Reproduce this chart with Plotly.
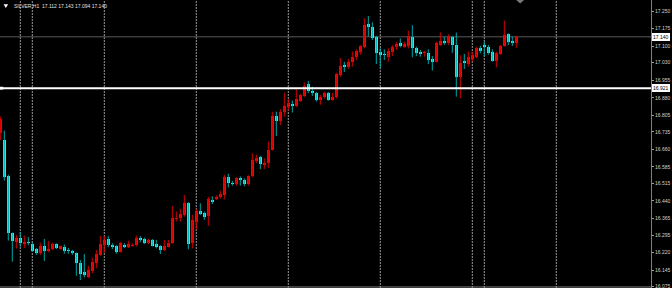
import plotly.graph_objects as go

# ---- data (SILVER, H1) ----
opens = [16.730, 16.700, 16.547, 16.305, 16.267, 16.281, 16.258, 16.267, 16.257, 16.234,
         16.220, 16.246, 16.226, 16.234, 16.256, 16.237, 16.243, 16.230, 16.225, 16.217,
         16.177, 16.137, 16.117, 16.142, 16.175, 16.210, 16.251, 16.277, 16.254, 16.248,
         16.224, 16.254, 16.245, 16.250, 16.251, 16.284, 16.279, 16.260, 16.274, 16.256,
         16.248, 16.231, 16.245, 16.260, 16.365, 16.369, 16.380, 16.433, 16.260, 16.352,
         16.398, 16.390, 16.376, 16.444, 16.447, 16.456, 16.466, 16.541, 16.518, 16.513,
         16.537, 16.530, 16.513, 16.547, 16.611, 16.627, 16.592, 16.601, 16.658, 16.802,
         16.781, 16.818, 16.842, 16.854, 16.845, 16.868, 16.888, 16.938, 16.910, 16.902,
         16.871, 16.885, 16.902, 16.871, 16.885, 16.977, 17.020, 17.010, 17.031, 17.053,
         17.077, 17.098, 17.193, 17.183, 17.141, 17.077, 17.067, 17.055, 17.077, 17.095,
         17.112, 17.098, 17.101, 17.141, 17.091, 17.077, 17.070, 17.072, 17.044, 17.034,
         17.105, 17.123, 17.112, 17.141, 17.105, 16.967, 17.037, 17.024, 17.044, 17.055,
         17.091, 17.105, 17.098, 17.077, 17.038, 17.067, 17.101, 17.152, 17.123, 17.112]
highs = [16.800, 16.740, 16.552, 16.305, 16.295, 16.307, 16.292, 16.286, 16.262, 16.240,
         16.262, 16.278, 16.270, 16.262, 16.260, 16.250, 16.254, 16.240, 16.232, 16.221,
         16.189, 16.214, 16.163, 16.198, 16.231, 16.291, 16.290, 16.290, 16.260, 16.252,
         16.266, 16.260, 16.271, 16.260, 16.292, 16.290, 16.284, 16.280, 16.278, 16.274,
         16.252, 16.274, 16.274, 16.419, 16.395, 16.407, 16.466, 16.435, 16.380, 16.407,
         16.430, 16.395, 16.458, 16.460, 16.464, 16.484, 16.551, 16.556, 16.526, 16.541,
         16.545, 16.537, 16.550, 16.643, 16.636, 16.633, 16.622, 16.693, 16.821, 16.821,
         16.831, 16.902, 16.875, 16.869, 16.916, 16.897, 16.945, 16.952, 16.927, 16.905,
         16.892, 16.906, 16.905, 16.900, 16.987, 17.050, 17.033, 17.045, 17.077, 17.087,
         17.105, 17.219, 17.229, 17.202, 17.144, 17.091, 17.087, 17.091, 17.105, 17.119,
         17.133, 17.119, 17.166, 17.190, 17.098, 17.084, 17.080, 17.087, 17.058, 17.119,
         17.159, 17.141, 17.151, 17.144, 17.158, 17.062, 17.067, 17.077, 17.077, 17.098,
         17.101, 17.119, 17.105, 17.087, 17.077, 17.105, 17.209, 17.155, 17.141, 17.143]
lows = [16.700, 16.527, 16.271, 16.181, 16.237, 16.245, 16.239, 16.252, 16.224, 16.210,
        16.210, 16.184, 16.222, 16.230, 16.235, 16.232, 16.215, 16.215, 16.210, 16.121,
        16.103, 16.114, 16.111, 16.132, 16.153, 16.206, 16.219, 16.243, 16.235, 16.215,
        16.220, 16.239, 16.239, 16.246, 16.246, 16.264, 16.256, 16.255, 16.246, 16.238,
        16.214, 16.227, 16.242, 16.257, 16.353, 16.352, 16.373, 16.234, 16.238, 16.317,
        16.380, 16.360, 16.334, 16.427, 16.444, 16.450, 16.447, 16.498, 16.505, 16.506,
        16.506, 16.503, 16.506, 16.541, 16.602, 16.576, 16.576, 16.582, 16.655, 16.717,
        16.764, 16.800, 16.826, 16.817, 16.840, 16.862, 16.883, 16.900, 16.888, 16.864,
        16.850, 16.876, 16.868, 16.868, 16.877, 16.969, 16.990, 17.003, 17.013, 17.041,
        17.063, 17.091, 17.141, 17.126, 17.024, 17.006, 17.041, 17.034, 17.058, 17.084,
        17.095, 17.094, 17.091, 17.053, 17.058, 17.055, 17.055, 17.024, 16.996, 17.031,
        17.101, 17.105, 17.105, 17.072, 16.885, 16.878, 17.003, 17.013, 17.034, 17.048,
        17.070, 17.058, 17.063, 17.034, 17.010, 17.063, 17.098, 17.105, 17.101, 17.094]
closes = [16.790, 16.544, 16.305, 16.271, 16.282, 16.260, 16.267, 16.260, 16.228, 16.217,
          16.246, 16.228, 16.237, 16.256, 16.240, 16.246, 16.227, 16.225, 16.217, 16.174,
          16.129, 16.123, 16.146, 16.181, 16.214, 16.257, 16.274, 16.251, 16.245, 16.222,
          16.260, 16.243, 16.256, 16.254, 16.284, 16.274, 16.260, 16.274, 16.250, 16.243,
          16.231, 16.250, 16.262, 16.366, 16.369, 16.385, 16.433, 16.256, 16.357, 16.398,
          16.385, 16.372, 16.447, 16.437, 16.458, 16.469, 16.541, 16.516, 16.514, 16.537,
          16.530, 16.513, 16.547, 16.615, 16.625, 16.598, 16.603, 16.658, 16.804, 16.783,
          16.821, 16.846, 16.857, 16.847, 16.874, 16.892, 16.930, 16.910, 16.902, 16.871,
          16.885, 16.902, 16.871, 16.885, 16.982, 17.016, 17.010, 17.034, 17.055, 17.081,
          17.101, 17.190, 17.183, 17.136, 17.072, 17.063, 17.061, 17.081, 17.098, 17.109,
          17.101, 17.109, 17.144, 17.091, 17.072, 17.067, 17.072, 17.041, 17.034, 17.115,
          17.123, 17.115, 17.144, 17.105, 16.967, 17.030, 17.027, 17.053, 17.063, 17.091,
          17.081, 17.095, 17.070, 17.038, 17.072, 17.101, 17.148, 17.119, 17.115, 17.140]

separator_bars = [5, 8, 26, 49, 72, 95, 118, 121, 139]
tick_values = [17.250, 17.175, 17.100, 17.030, 16.955, 16.880, 16.805, 16.735, 16.660,
               16.585, 16.515, 16.440, 16.365, 16.295, 16.220, 16.145, 16.075]
tick_labels = ["%.3f" % v for v in tick_values]
symbol = "SILVER,H1"
bid_level = 17.140
hline_level = 16.921
y_range = [16.069, 17.297]
x_range = [-0.075, 162.675]

UP_BODY, UP_WICK = "#ff0000", "#d40000"
DN_BODY, DN_WICK = "#00ffff", "#00a8a8"
MIN_BODY = 0.004

n = len(opens)
idx = list(range(n))
up = [i for i in idx if closes[i] >= opens[i]]
dn = [i for i in idx if closes[i] < opens[i]]


def wicks(ids):
    xs, ys = [], []
    for i in ids:
        xs += [i, i, None]
        ys += [lows[i], highs[i], None]
    return xs, ys


def bodies(ids):
    base = [min(opens[i], closes[i]) for i in ids]
    h = [max(abs(closes[i] - opens[i]), MIN_BODY) for i in ids]
    return base, h


fig = go.Figure()
for ids, wc, bc in ((up, UP_WICK, UP_BODY), (dn, DN_WICK, DN_BODY)):
    wx, wy = wicks(ids)
    fig.add_trace(go.Scatter(x=wx, y=wy, mode="lines", line=dict(color=wc, width=1),
                             hoverinfo="skip", showlegend=False))
for ids, bc in ((up, UP_BODY), (dn, DN_BODY)):
    base, h = bodies(ids)
    fig.add_trace(go.Bar(x=ids, y=h, base=base, width=0.75, marker=dict(color=bc, line=dict(width=0)),
                         hoverinfo="skip", showlegend=False))

shapes = []
for s in separator_bars:
    shapes.append(dict(type="line", xref="x", yref="paper", x0=s, x1=s, y0=0, y1=1,
                       line=dict(color="#9a9a9a", width=1, dash="2px,1px"), layer="below"))
# bid price line
shapes.append(dict(type="line", xref="paper", yref="y", x0=0, x1=1, y0=bid_level, y1=bid_level,
                   line=dict(color="#5a5a5a", width=1), layer="below"))
# horizontal white line
shapes.append(dict(type="line", xref="paper", yref="y", x0=0, x1=1, y0=hline_level, y1=hline_level,
                   line=dict(color="#ffffff", width=2)))
shapes.append(dict(type="rect", xref="paper", yref="y", x0=0, x1=0.005, y0=hline_level - 0.006,
                   y1=hline_level + 0.006, fillcolor="#ffffff", line=dict(width=0)))
# bottom border line
shapes.append(dict(type="line", xref="paper", yref="paper", x0=0, x1=1, y0=0.0035, y1=0.0035,
                   line=dict(color="#808080", width=1)))
# top-left triangle and top shift marker
shapes.append(dict(type="path", xref="paper", yref="paper",
                   path="M 0.0055 0.985 L 0.0125 0.985 L 0.009 0.972 Z",
                   fillcolor="#ffffff", line=dict(width=0)))
shapes.append(dict(type="path", xref="paper", yref="paper",
                   path="M 0.793 1.0 L 0.805 1.0 L 0.799 0.988 Z",
                   fillcolor="#7a7a7a", line=dict(width=0)))

annotations = [
    dict(xref="paper", yref="paper", x=0.018, y=0.979, xanchor="left", yanchor="middle",
         text="%s  %.3f %.3f %.3f %.3f" % (symbol, opens[-1], highs[-1], lows[-1], closes[-1]),
         showarrow=False, font=dict(family="Liberation Sans", size=5, color="#e0e0e0")),
    dict(xref="paper", yref="y", x=1.0, y=bid_level, xanchor="left", yanchor="middle",
         text="%.3f" % bid_level, showarrow=False, bgcolor="#ffffff", bordercolor="#ffffff",
         borderpad=0, xshift=1, font=dict(family="Liberation Sans", size=5, color="#000000")),
    dict(xref="paper", yref="y", x=1.0, y=hline_level, xanchor="left", yanchor="middle",
         text="%.3f" % hline_level, showarrow=False, bgcolor="#ffffff", bordercolor="#ffffff",
         borderpad=0, xshift=1, font=dict(family="Liberation Sans", size=5, color="#000000")),
]

fig.update_layout(
    width=672, height=288,
    margin=dict(l=0, r=21, t=0, b=0),
    paper_bgcolor="#000000", plot_bgcolor="#000000",
    barmode="overlay", bargap=0,
    shapes=shapes, annotations=annotations,
    xaxis=dict(range=x_range, showgrid=False, zeroline=False, showticklabels=False,
               showline=True, mirror=True, linecolor="#808080", linewidth=1, ticks=""),
    yaxis=dict(range=y_range, side="right", showgrid=False, zeroline=False,
               tickvals=tick_values, ticktext=tick_labels, ticks="outside", ticklen=2,
               tickcolor="#a0a0a0", showline=True, linecolor="#808080", linewidth=1,
               tickfont=dict(family="Liberation Sans", size=5, color="#d0d0d0"),
               ticklabeloverflow="allow", automargin=False),
    hovermode=False,
)

fig.write_html("out.html", config={"displayModeBar": False, "staticPlot": True})
